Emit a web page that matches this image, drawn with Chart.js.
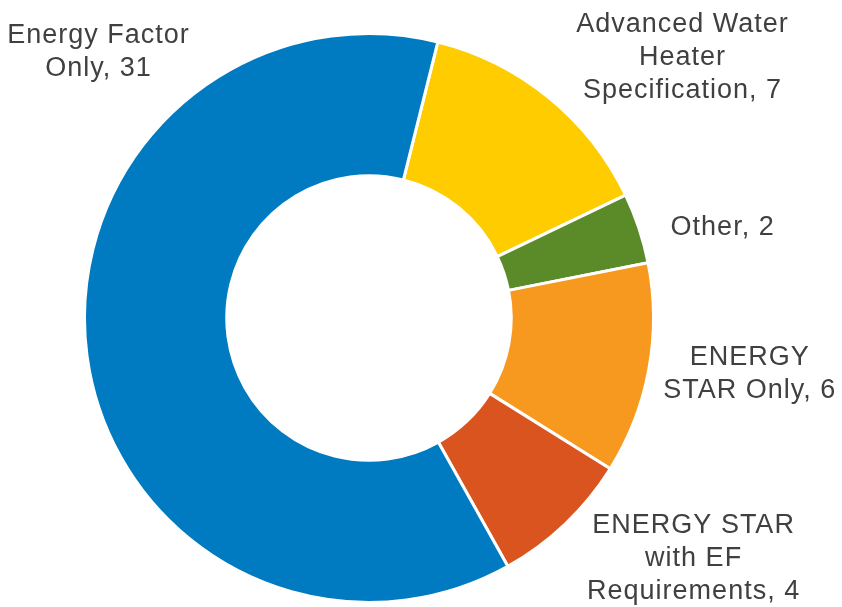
<!DOCTYPE html>
<html>
<head>
<meta charset="utf-8">
<script src="https://cdn.jsdelivr.net/npm/chart.js@4.4.0/dist/chart.umd.min.js"></script>
<style>
    html, body { margin: 0; padding: 0; background: #fff; }
    #wrap { width: 842px; height: 607px; }
</style>
</head>
<body>
<div id="wrap"><canvas id="myChart" width="842" height="607"></canvas></div>
<script>
    // 数据
    var categories = ['Advanced Water Heater Specification', 'Other', 'ENERGY STAR Only', 'ENERGY STAR with EF Requirements', 'Energy Factor Only'];
    var values = [7, 2, 6, 4, 31];
    var labelLines = [
        ['Advanced Water', 'Heater', 'Specification, 7'],
        ['Other, 2'],
        ['ENERGY', 'STAR Only, 6'],
        ['ENERGY STAR', 'with EF', 'Requirements, 4'],
        ['Energy Factor', 'Only, 31']
    ];
    var colors = ['#FFCC00', '#5B8A29', '#F7991F', '#DA541F', '#007BC1'];

    // 标签位置（相对圆心，单位为外半径）
    var labelAnchors = [
        [1.102, -1.007],
        [1.243, -0.292],
        [1.338, 0.165],
        [1.141, 0.757],
        [-0.951, -0.968]
    ];

    var outsideLabels = {
        id: 'outsideLabels',
        afterDraw: function (chart) {
            var ctx = chart.ctx;
            var arc = chart.getDatasetMeta(0).data[0];
            var cx = arc.x, cy = arc.y, r = arc.outerRadius;
            ctx.save();
            ctx.font = '27px "Liberation Sans", Arial, sans-serif';
            ctx.letterSpacing = '1px';
            ctx.fillStyle = '#404040';
            ctx.textAlign = 'center';
            ctx.textBaseline = 'alphabetic';
            labelLines.forEach(function (lines, i) {
                var x = cx + labelAnchors[i][0] * r;
                var y = cy + labelAnchors[i][1] * r;
                lines.forEach(function (t, k) {
                    ctx.fillText(t, x, y + k * 33);
                });
            });
            ctx.restore();
        }
    };

    var ctx = document.getElementById('myChart').getContext('2d');
    var myChart = new Chart(ctx, {
        type: 'doughnut',
        data: {
            labels: categories,
            datasets: [{
                data: values,
                backgroundColor: colors,
                borderColor: '#ffffff',
                borderWidth: 3
            }]
        },
        options: {
            responsive: false,
            animation: false,
            rotation: 14,
            cutout: '50%',
            layout: { padding: { left: 83, right: 187, top: 32, bottom: 3 } },
            plugins: {
                legend: { display: false },
                tooltip: { enabled: false }
            }
        },
        plugins: [outsideLabels]
    });
</script>
</body>
</html>
